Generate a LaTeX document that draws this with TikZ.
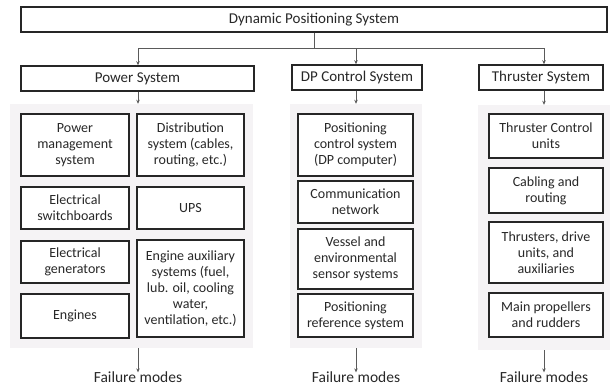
\documentclass[tikz,border=0pt]{standalone}
\usepackage{fontspec}
\setmainfont{Carlito}
\usetikzlibrary{arrows.meta}
\definecolor{txt}{RGB}{40,40,40}
\definecolor{panel}{RGB}{245,243,245}
\definecolor{conn}{RGB}{90,90,90}
\tikzset{
  box/.style={draw=black!85, line width=1.5pt, fill=white, inner sep=0pt, align=center, text=txt,
    font=\fontsize{14}{16}\selectfont},
  head/.style={box, font=\fontsize{15}{17}\selectfont},
  pnl/.style={fill=panel, draw=none, inner sep=0pt},
  conn/.style={draw=conn, line width=0.7pt, -{Stealth[length=4pt,width=3.5pt]}},
  fm/.style={text=txt, font=\fontsize{15.5}{17}\selectfont, inner sep=0pt}
}
\newcommand{\bx}[7]{\node[#1, minimum width={#4-#3}, minimum height={#6-#5}] (#2) at ({(#3+#4)/2},{(#5+#6)/2}) {#7};}
\begin{document}
\begin{tikzpicture}[x=1pt,y=-1pt]
\useasboundingbox (0,0) rectangle (610,387);
% panels
\bx{pnl}{pp}{10}{253}{104}{348}{}
\bx{pnl}{dp}{290}{422}{104}{348}{}
\bx{pnl}{tp}{478}{610}{105}{350}{}
% top
\bx{head}{dps}{21}{607}{7}{32}{Dynamic Positioning System}
\bx{head}{ps}{21}{254}{66}{91}{Power System}
\bx{head}{dcs}{292}{422}{65}{90}{DP Control System}
\bx{head}{ts}{479}{603}{65}{90}{Thruster System}
% power
\bx{box}{pm}{21}{129}{114}{176}{Power\\management\\system}
\bx{box}{dist}{137}{244}{114}{176}{Distribution\\system (cables,\\routing, etc.)}
\bx{box}{esw}{21}{129}{187}{229}{Electrical\\switchboards}
\bx{box}{ups}{137}{244}{187}{229}{UPS}
\bx{box}{egen}{21}{129}{241}{283}{Electrical\\generators}
\bx{box}{eng}{21}{129}{294}{338}{Engines}
\bx{box}{eaux}{137}{244}{240}{337}{Engine auxiliary\\systems (fuel,\\lub. oil, cooling\\water,\\ventilation, etc.)}
% dp
\bx{box}{pcs}{298}{413}{114}{176}{Positioning\\control system\\(DP computer)}
\bx{box}{comm}{298}{413}{181}{223}{Communication\\network}
\bx{box}{vess}{298}{413}{229}{289}{Vessel and\\environmental\\sensor systems}
\bx{box}{prs}{298}{413}{294}{337}{Positioning\\reference system}
% thruster
\bx{box}{tcu}{489}{603}{114}{158}{Thruster Control\\units}
\bx{box}{cab}{489}{603}{168}{213}{Cabling and\\routing}
\bx{box}{thr}{489}{603}{222}{283}{Thrusters, drive\\units, and\\auxiliaries}
\bx{box}{mpr}{489}{603}{293}{337}{Main propellers\\and rudders}
% failure modes
\node[fm] (f1) at (138,377) {Failure modes};
\node[fm] (f2) at (356,377) {Failure modes};
\node[fm] (f3) at (544,377) {Failure modes};
% connectors
\coordinate (j) at (314,48);
\draw[draw=conn, line width=0.7pt] (dps.south -| j) -- (j);
\draw[conn] (j) -| (ps.north -| 138,0);
\draw[conn] (j) -| (dcs.north -| 356,0);
\draw[conn] (j) -| (ts.north -| 544,0);
\draw[conn] (ps.south -| 138,0) -- (pp.north -| 138,0);
\draw[conn] (dcs.south -| 356,0) -- (dp.north -| 356,0);
\draw[conn] (ts.south -| 544,0) -- (tp.north -| 544,0);
\draw[conn] (pp.south -| 138,0) -- ([yshift=-1pt]f1.north);
\draw[conn] (dp.south -| 356,0) -- ([yshift=-1pt]f2.north);
\draw[conn] (tp.south -| 544,0) -- ([yshift=-1pt]f3.north);
\end{tikzpicture}
\end{document}
